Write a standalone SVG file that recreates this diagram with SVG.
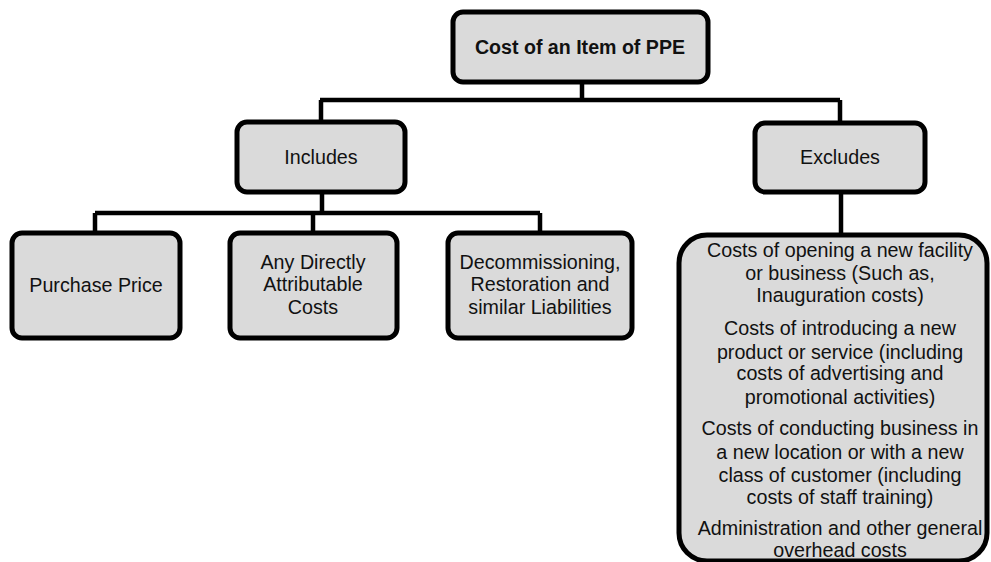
<svg xmlns="http://www.w3.org/2000/svg" width="991" height="562" viewBox="0 0 991 562">
<style>
.box{fill:#dadada;stroke:#000;stroke-width:5}
.con{fill:none;stroke:#000;stroke-width:4.5}
text{font-family:"Liberation Sans",Arial,sans-serif;font-size:19.7px;fill:#111;text-anchor:middle}
.b{font-weight:bold;font-size:19.6px}
</style>
<rect width="991" height="562" fill="#fff"/>
<g id="connectors">
<path class="con" d="M582 82V100M320 100H840M321 122V100M840 123V100"/>
<path class="con" d="M322 192V213M95 213H540M95 213V233M313 213V233M540 213V233"/>
<path class="con" d="M841 192V235"/>
</g>
<g id="root">
<rect class="box" x="453" y="12" width="255" height="70" rx="10"/>
<text class="b" x="580" y="54">Cost of an Item of PPE</text>
</g>
<g id="includes">
<rect class="box" x="237" y="122" width="168" height="70" rx="10"/>
<text x="321" y="164">Includes</text>
</g>
<g id="excludes">
<rect class="box" x="755" y="123" width="170" height="69" rx="10"/>
<text x="840" y="164">Excludes</text>
</g>
<g id="purchase">
<rect class="box" x="12" y="233" width="168" height="105" rx="10"/>
<text x="96" y="292">Purchase Price</text>
</g>
<g id="attributable">
<rect class="box" x="230" y="233" width="167" height="105" rx="10"/>
<text x="313" y="269">Any Directly</text>
<text x="313" y="291">Attributable</text>
<text x="313" y="314">Costs</text>
</g>
<g id="decommissioning">
<rect class="box" x="448" y="233" width="184" height="105" rx="10"/>
<text x="540" y="269">Decommissioning,</text>
<text x="540" y="291">Restoration and</text>
<text x="540" y="314">similar Liabilities</text>
</g>
<g id="exclusions">
<rect class="box" x="679" y="235" width="308" height="326" rx="28"/>
<text x="840" y="257">Costs of opening a new facility</text>
<text x="840" y="280">or business (Such as,</text>
<text x="840" y="302">Inauguration costs)</text>
<text x="840" y="335">Costs of introducing a new</text>
<text x="840" y="359">product or service (including</text>
<text x="840" y="380">costs of advertising and</text>
<text x="840" y="404">promotional activities)</text>
<text x="840" y="435">Costs of conducting business in</text>
<text x="840" y="459">a new location or with a new</text>
<text x="840" y="482">class of customer (including</text>
<text x="840" y="504">costs of staff training)</text>
<text x="840" y="535">Administration and other general</text>
<text x="840" y="557">overhead costs</text>
</g>
</svg>
